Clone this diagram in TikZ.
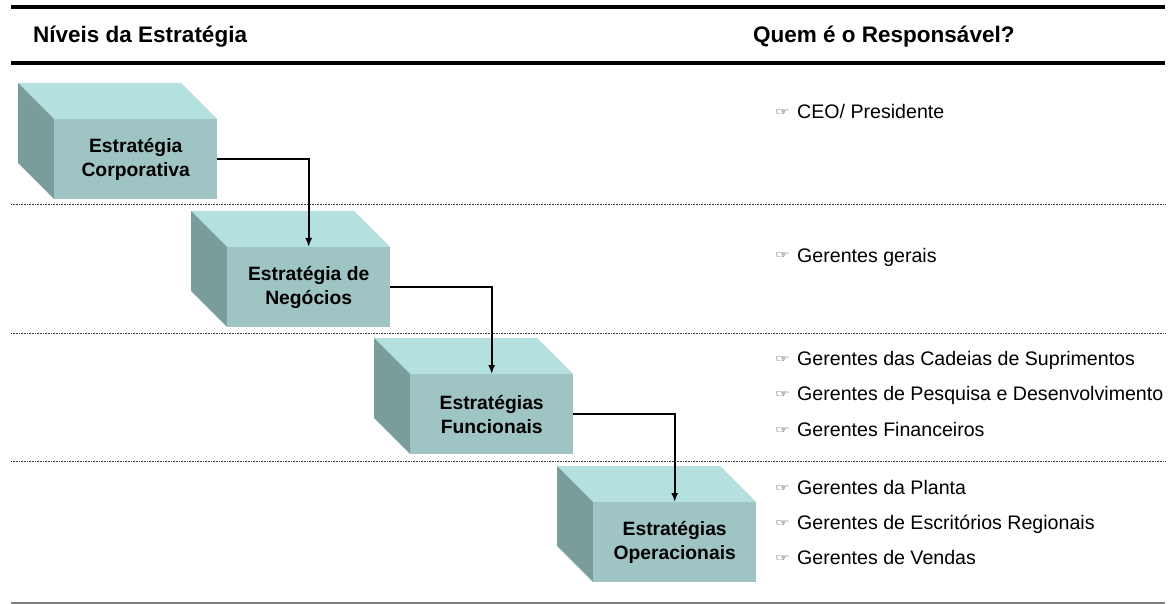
\documentclass[tikz,border=0pt]{standalone}
\usepackage{fontspec}
\usepackage{graphicx}
\setmainfont{Liberation Sans}
\newfontfamily\handfont{DejaVu Sans Bold}
\usetikzlibrary{arrows.meta}
\definecolor{topface}{HTML}{B4E0E0}
\definecolor{frontface}{HTML}{9EC4C4}
\definecolor{sideface}{HTML}{7A9C9A}
\newcommand{\pointer}{\makebox[22pt][l]{\raisebox{3pt}{\scalebox{1}[0.6]{\handfont\fontsize{16.5}{16.5}\selectfont ☞}}}}
\tikzset{
  front/.style={rectangle, fill=frontface, minimum width=163pt, minimum height=80pt,
    inner sep=0pt, anchor=north west, align=center,
    font=\fontsize{19.3}{24}\selectfont\bfseries},
  heading/.style={anchor=base west, inner sep=0pt, font=\fontsize{22.5}{24}\selectfont\bfseries},
  item/.style={anchor=base west, inner sep=0pt, font=\fontsize{19.6}{24}\selectfont},
  rule/.style={line width=4pt, black},
  sep/.style={line width=1pt, black!75, dash pattern=on 1pt off 0.6pt},
  link/.style={line width=1.8pt, -{Latex[length=9pt,width=7pt]}}
}
% block with a top and a left face behind its front face
\newcommand{\stratbox}[4]{%
  \fill[topface] (#2-36,#3-36) -- (#2+127,#3-36) -- (#2+163,#3) -- (#2,#3) -- cycle;
  \fill[sideface] (#2-36,#3-36) -- (#2,#3) -- (#2,#3+80) -- (#2-36,#3+44) -- cycle;
  \node[front] (#1) at (#2,#3) {#4};
}
\begin{document}
\begin{tikzpicture}[x=1pt,y=-1pt]
\useasboundingbox (0,0) rectangle (1173,604);

% heading rules
\draw[rule] (11,7) -- (1165,7);
\draw[rule] (11,63) -- (1165,63);
\node[heading] (h1) at (33,43) {Níveis da Estratégia};
\node[heading] (h2) at (753,43) {Quem é o Responsável?};

% level separators
\draw[sep] (11,205) -- (1165,205);
\draw[sep] (11,333) -- (1165,333);
\draw[sep] (11,461) -- (1165,461);
\draw[line width=1.5pt, black!50] (11,603) -- (1165,603);

% strategy levels
\stratbox{corp}{54}{119}{Estratégia\\Corporativa}
\stratbox{neg}{227}{247}{Estratégia de\\Negócios}
\stratbox{func}{410}{374}{Estratégias\\Funcionais}
\stratbox{oper}{593}{502}{Estratégias\\Operacionais}

% cascade connectors
\draw[link] (corp.east) -| (neg.north);
\draw[link] (neg.east) -| (func.north);
\draw[link] (func.east) -| (oper.north);

% responsible people
\node[item] (r1) at (775,119) {\pointer CEO/ Presidente};
\node[item] (r2) at (775,262) {\pointer Gerentes gerais};
\node[item] (r3) at (775,365) {\pointer Gerentes das Cadeias de Suprimentos};
\node[item] (r4) at (775,400) {\pointer Gerentes de Pesquisa e Desenvolvimento};
\node[item] (r5) at (775,436) {\pointer Gerentes Financeiros};
\node[item] (r6) at (775,494) {\pointer Gerentes da Planta};
\node[item] (r7) at (775,529) {\pointer Gerentes de Escritórios Regionais};
\node[item] (r8) at (775,564) {\pointer Gerentes de Vendas};
\end{tikzpicture}
\end{document}
